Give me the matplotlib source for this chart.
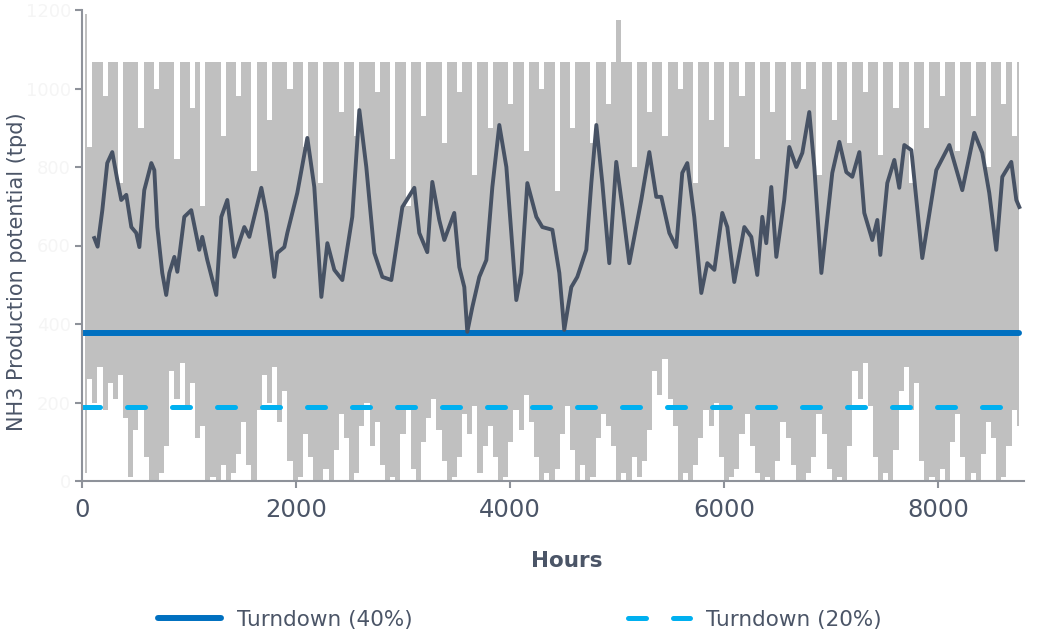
import numpy as np
import matplotlib
matplotlib.use("Agg")
import matplotlib.pyplot as plt

# hourly production potential, summarised as a high/low pair every 48 h
prod_high = [
    1190, 850, 1067, 1067, 980, 1067, 1067, 760, 1067, 1067,
    1067, 900, 1067, 1067, 1000, 1067, 1067, 1067, 820, 1067,
    1067, 950, 1067, 700, 1067, 1067, 1067, 880, 1067, 1067,
    980, 1067, 1067, 790, 1067, 1067, 920, 1067, 1067, 1067,
    1000, 1067, 1067, 850, 1067, 1067, 760, 1067, 1067, 1067,
    940, 1067, 1067, 880, 1067, 1067, 1067, 990, 1067, 1067,
    820, 1067, 1067, 700, 1067, 1067, 930, 1067, 1067, 1067,
    860, 1067, 1067, 990, 1067, 1067, 780, 1067, 1067, 900,
    1067, 1067, 1067, 960, 1067, 1067, 840, 1067, 1067, 1000,
    1067, 1067, 740, 1067, 1067, 900, 1067, 1067, 1067, 860,
    1067, 1067, 960, 1067, 1175, 1067, 1067, 800, 1067, 1067,
    940, 1067, 1067, 880, 1067, 1067, 1000, 1067, 1067, 760,
    1067, 1067, 920, 1067, 1067, 850, 1067, 1067, 980, 1067,
    1067, 820, 1067, 1067, 940, 1067, 1067, 870, 1067, 1067,
    1000, 1067, 1067, 780, 1067, 1067, 920, 1067, 1067, 860,
    1067, 1067, 990, 1067, 1067, 830, 1067, 1067, 950, 1067,
    1067, 760, 1067, 1067, 900, 1067, 1067, 980, 1067, 1067,
    840, 1067, 1067, 930, 1067, 1067, 800, 1067, 1067, 960,
    1067, 880, 1067,
]
prod_low = [
    20, 260, 200, 290, 180, 250, 210, 270, 160, 10,
    130, 180, 60, 0, 0, 20, 90, 280, 210, 300,
    190, 250, 110, 140, 0, 10, 0, 40, 0, 20,
    70, 150, 40, 0, 180, 270, 200, 290, 150, 230,
    50, 0, 10, 120, 60, 0, 0, 30, 0, 80,
    170, 110, 0, 20, 140, 200, 90, 150, 40, 0,
    10, 0, 120, 180, 30, 0, 100, 160, 210, 130,
    50, 0, 10, 60, 170, 120, 190, 20, 90, 140,
    60, 0, 10, 100, 180, 130, 220, 150, 60, 0,
    20, 0, 30, 120, 190, 80, 0, 40, 0, 10,
    110, 170, 140, 90, 0, 20, 0, 60, 10, 50,
    130, 280, 220, 310, 210, 140, 0, 20, 0, 40,
    110, 180, 140, 200, 60, 0, 10, 30, 120, 170,
    90, 20, 0, 10, 0, 50, 150, 110, 40, 0,
    0, 20, 60, 170, 120, 30, 0, 10, 0, 90,
    280, 210, 300, 190, 60, 0, 20, 0, 80, 230,
    290, 180, 250, 50, 0, 10, 0, 30, 0, 100,
    170, 60, 0, 20, 0, 70, 150, 110, 0, 10,
    90, 180, 140,
]

# rolling average of the production potential
avg_hours = [
    115, 146, 162, 190, 236, 283, 330, 367, 414, 461, 507, 536, 582, 648, 676,
    704, 750, 787, 816, 863, 891, 956, 1021, 1096, 1124, 1171, 1255, 1302, 1358,
    1424, 1517, 1564, 1676, 1722, 1797, 1825, 1891, 1919, 2012, 2106, 2171, 2237,
    2293, 2358, 2433, 2526, 2592, 2657, 2732, 2807, 2891, 2994, 3106, 3152, 3227,
    3274, 3339, 3386, 3479, 3526, 3573, 3601, 3648, 3713, 3779, 3835, 3900, 3966,
    4059, 4106, 4162, 4246, 4302, 4396, 4461, 4507, 4573, 4629, 4713, 4760, 4807,
    4863, 4928, 4993, 5050, 5115, 5162, 5227, 5302, 5367, 5414, 5489, 5554, 5610,
    5657, 5722, 5788, 5844, 5910, 5984, 6031, 6096, 6190, 6255, 6311, 6358, 6395,
    6442, 6489, 6563, 6610, 6676, 6732, 6797, 6844, 6910, 7012, 7078, 7143, 7199,
    7265, 7311, 7386, 7433, 7461, 7526, 7592, 7638, 7685, 7751, 7853, 7984, 8106,
    8227, 8339, 8414, 8479, 8545, 8601, 8685, 8732, 8760,
]
avg_tpd = [
    619, 597, 632, 690, 810, 838, 767, 716, 729, 647, 632, 596, 741, 810, 792,
    647, 530, 474, 530, 571, 533, 673, 690, 589, 622, 563, 474, 673, 716,
    571, 647, 622, 747, 683, 520, 581, 596, 632, 734, 874, 749, 469,
    606, 538, 512, 673, 945, 800, 581, 520, 512, 698, 747, 632, 583,
    762, 665, 614, 683, 545, 494, 380, 443, 520, 563, 749, 907, 800,
    461, 530, 759, 673, 647, 640, 530, 385, 494, 520, 589, 759, 907,
    759, 555, 813, 698, 555, 622, 716, 838, 724, 724, 632, 596, 785,
    810, 673, 479, 555, 538, 683, 647, 507, 647, 622, 525, 673, 606,
    749, 571, 716, 851, 800, 836, 940, 800, 530, 785, 864, 787, 775,
    838, 683, 614, 665, 576, 759, 818, 747, 856, 843, 568, 792, 856,
    741, 887, 836, 734, 589, 775, 813, 716, 698,
]

turndown_40 = 377
turndown_20 = 189
year_hours = [0, 8760]

x_ticks = [0, 2000, 4000, 6000, 8000]
y_ticks = [0, 200, 400, 600, 800, 1000, 1200]

text_col = "#4b5567"
axis_col = "#8e929a"

bin_hours = np.arange(len(prod_high)) * 48 + 24

fig = plt.figure(figsize=(10.41, 6.32), dpi=100)
ax = fig.add_axes([82 / 1041, 151 / 632, 941.6 / 1041, 471 / 632])

ax.fill_between(bin_hours, prod_low, prod_high, step="mid",
                color="#c0c0c0", lw=0, zorder=1)
line40, = ax.plot(year_hours, [turndown_40] * 2, color="#0070c0", lw=4.3,
                  solid_capstyle="round", zorder=2, label="Turndown (40%)")
line20, = ax.plot(year_hours, [turndown_20] * 2, color="#00b0f0", lw=3.6,
                  dashes=(3.6, 5.4), dash_capstyle="round", zorder=2,
                  label="Turndown (20%)")
ax.plot(avg_hours, avg_tpd, color="#475264", lw=2.8, zorder=3)

ax.set_xlim(0, 8800)
ax.set_ylim(0, 1200)
ax.set_xticks(x_ticks)
ax.set_yticks(y_ticks)
ax.set_yticklabels([str(v) for v in y_ticks], color="#f5f5f5", fontsize=13)
ax.tick_params(axis="both", direction="out", length=5, width=1.5, color=axis_col,
               pad=7)
ax.tick_params(axis="x", labelcolor=text_col, labelsize=17.5)
ax.tick_params(axis="y", pad=3)

for side in ["top", "right"]:
    ax.spines[side].set_visible(False)
for side in ["left", "bottom"]:
    ax.spines[side].set_color(axis_col)
    ax.spines[side].set_linewidth(1.5)

ax.set_xlabel("Hours", fontsize=15.5, fontweight="bold", color=text_col)
ax.xaxis.set_label_coords(0.515, -0.149)
ax.set_ylabel("NH3 Production potential (tpd)", fontsize=15, color=text_col)
ax.yaxis.set_label_coords(-0.058, 0.444)

fig.legend(handles=[line40, line20], loc="center",
           bbox_to_anchor=(520 / 1041, 12 / 632), ncol=2, frameon=False,
           fontsize=15.5, labelcolor=text_col, handlelength=2.9,
           handletextpad=0.75, columnspacing=10)

fig.savefig("out.png", dpi=100)
